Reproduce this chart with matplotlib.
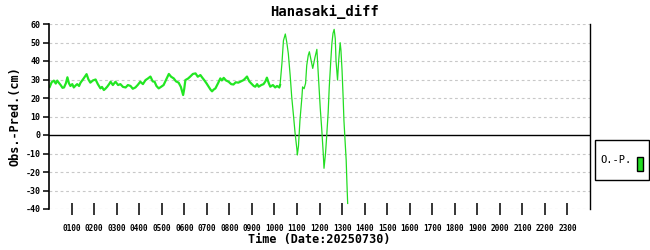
import matplotlib
matplotlib.use("Agg")
import matplotlib.pyplot as plt
from matplotlib.patches import Rectangle

# minutes after 00:00 and Obs.-Pred. (cm)
minutes = [2, 7, 13, 18, 22, 27, 31, 36, 40, 45, 49, 53, 57, 62, 66, 71, 75, 80, 84, 92,
           100, 105, 110, 117, 124, 130, 137, 141, 146, 150, 155, 160, 164, 170, 177, 184,
           190, 197, 204, 210, 217, 223, 230, 236, 243, 250, 257, 263, 270, 276, 281, 286,
           292, 298, 305, 312, 319, 325, 332, 338, 345, 351, 357, 360, 363, 370, 376, 383,
           390, 396, 403, 408, 413, 419, 425, 430, 434, 438, 443, 450, 456, 460, 465, 471,
           478, 485, 491, 497, 504, 511, 518, 522, 527, 533, 540, 545, 549, 554, 558, 565,
           571, 576, 580, 585, 589, 596, 602, 607, 613,
           615, 620, 624, 629, 633, 637, 642, 646, 651, 655, 660, 661, 664, 668, 673, 675,
           679, 683, 686, 690, 693, 698, 702, 708, 713, 717, 722, 726, 730, 732, 736, 739,
           743, 746, 750, 753, 756, 759, 762, 764, 768, 771, 775, 777, 780, 783, 785, 788,
           791, 793, 795]
diff_cm = [26.0, 28.5, 29.4, 27.8, 29.4, 28.0, 27.0, 25.5, 25.7, 28.0, 31.2, 28.0, 26.5, 27.5,
           25.7, 26.8, 27.5, 26.5, 28.3, 30.5, 32.9, 30.0, 28.3, 29.5, 30.0, 27.5, 25.2, 26.0,
           24.3, 25.0, 26.1, 27.5, 28.8, 27.0, 28.8, 27.0, 27.5, 26.0, 25.7, 27.0, 26.5, 25.0,
           25.7, 27.0, 28.8, 27.5, 29.7, 30.5, 31.6, 29.0, 28.8, 26.5, 25.2, 26.0, 27.0, 30.0,
           33.0, 31.5, 30.6, 29.0, 28.3, 26.0, 21.6, 25.0, 29.7, 30.5, 31.6, 33.0, 33.3, 31.5,
           32.4, 31.0, 29.7, 28.0, 26.1, 24.5, 23.6, 24.5, 25.2, 28.0, 30.6, 29.5, 30.9, 29.5,
           28.8, 27.5, 27.3, 28.5, 28.3, 29.0, 29.7, 30.5, 31.6, 29.0, 27.5, 26.5, 26.1, 27.5,
           26.1, 27.0, 27.5, 29.0, 31.0, 28.0, 26.1, 27.0, 25.7, 26.5, 25.7,
           27.0, 38.7, 51.0, 54.6, 50.0, 44.0, 32.0, 20.7, 10.0, 1.0, -8.0, -10.8, -6.0, 8.0,
           20.0, 26.0, 25.0, 28.0, 37.6, 43.0, 45.0, 40.0, 36.0, 42.0, 46.3, 32.0, 14.5, 3.0,
           -10.0, -18.0, -10.0, -1.0, 12.0, 26.0, 40.0, 49.5, 55.0, 57.1, 52.0, 40.0, 29.7,
           40.0, 49.9, 46.0, 35.0, 20.0, 8.0, -3.0, -13.5, -26.0, -37.0]
hour_ticks = list(range(1, 24))
hour_labels = ["%02d00" % h for h in hour_ticks]
y_ticks = [-40, -30, -20, -10, 0, 10, 20, 30, 40, 50, 60]

mono = "DejaVu Sans Mono"
fig = plt.figure(figsize=(6.5, 2.5), dpi=100)
ax = fig.add_axes([49 / 650, 1 - 209 / 250, 541 / 650, 185 / 250])

hours = [m / 60 for m in minutes]
# quiet part drawn a bit heavier, like the noisy band in the original
ax.plot(hours[:110], diff_cm[:110], color="#22e622", lw=1.6)
ax.plot(hours[108:], diff_cm[108:], color="#22dd22", lw=0.9)

ax.set_xlim(0, 24)
ax.set_ylim(-40, 60)
ax.set_yticks(y_ticks)
ax.set_yticklabels([str(v) for v in y_ticks], fontfamily=mono, fontsize=6, fontweight="bold")
ax.set_xticks(hour_ticks)
ax.set_xticklabels(hour_labels, fontfamily=mono, fontsize=5.6, fontweight="bold")
ax.tick_params(axis="x", direction="inout", length=9, width=1.1, pad=6)
ax.tick_params(axis="y", direction="out", length=4, width=1.1, pad=2)

for v in y_ticks:
    if v != 0:
        ax.axhline(v, color="#c8c8c8", lw=0.8, ls=(0, (2.5, 2.5)), zorder=0)
ax.axhline(0, color="black", lw=1.0, zorder=1)

ax.spines["top"].set_visible(False)
ax.spines["bottom"].set_visible(False)
ax.spines["left"].set_linewidth(1.2)
ax.spines["right"].set_linewidth(1.0)

fig.text(0.5, 1 - 12 / 250, "Hanasaki_diff", ha="center", va="center",
         fontfamily=mono, fontsize=10, fontweight="bold")
fig.text(319 / 650, 1 - 240 / 250, "Time (Date:20250730)", ha="center", va="center",
         fontfamily=mono, fontsize=8.5, fontweight="bold")
fig.text(15 / 650, 1 - 116 / 250, "Obs.-Pred.(cm)", ha="center", va="center",
         rotation=90, fontfamily=mono, fontsize=8.5, fontweight="bold")

# legend box
fig.patches.append(Rectangle((595 / 650, 1 - 180 / 250), 54 / 650, 40 / 250,
                             transform=fig.transFigure, fill=False, ec="black", lw=1.0))
fig.text(600 / 650, 1 - 160 / 250, "O.-P.", ha="left", va="center",
         fontfamily=mono, fontsize=7.5)
fig.patches.append(Rectangle((637 / 650, 1 - 171 / 250), 6 / 650, 14 / 250,
                             transform=fig.transFigure, fc="#22dd22", ec="black", lw=1.0))

fig.savefig("out.png", dpi=100)
